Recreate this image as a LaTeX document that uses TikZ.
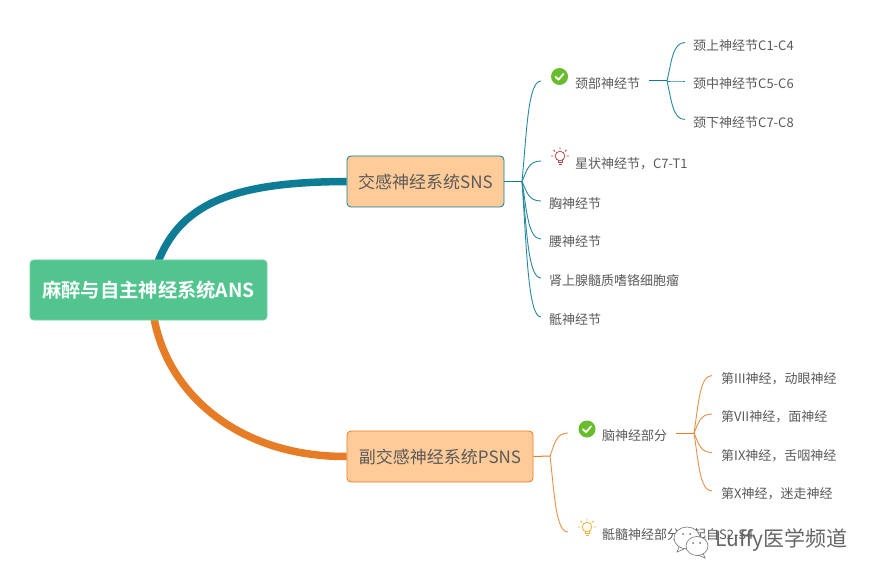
\documentclass[tikz,border=0pt]{standalone}
\usepackage{fontspec}
\setmainfont{Noto Sans CJK SC}[BoldFont={Noto Sans CJK SC Bold}]
\usetikzlibrary{calc,backgrounds,shapes.geometric}
\definecolor{tealc}{HTML}{0F7C96}
\definecolor{orangec}{HTML}{E67C26}
\definecolor{boxfill}{HTML}{FFCB98}
\definecolor{rootc}{HTML}{52C58F}
\definecolor{txt}{HTML}{5A5A5A}
\definecolor{okgreen}{HTML}{67BD2B}
\definecolor{bulbred}{HTML}{B5504F}
\definecolor{bulbyel}{HTML}{F0B43C}
\tikzset{
  rootbox/.style={fill=rootc,draw=rootc!80!white,rounded corners=3.5pt,line width=.6pt,minimum width=237pt,minimum height=60pt,inner sep=0,text=white,font=\fontsize{19.3}{19.3}\selectfont\bfseries},
  mainbox/.style={fill=boxfill,rounded corners=4pt,line width=.8pt,minimum height=51pt,inner sep=0,text=txt,font=\fontsize{17}{17}\selectfont},
  leaf/.style={anchor=west,inner sep=0,text=txt,text height=15.5pt,text depth=0pt,font=\fontsize{13}{13}\selectfont},
  thick branch/.style={line width=7.5pt},
  thin branch/.style={line width=.9pt},
  stem/.style={line width=1pt},
  pics/checkicon/.style={code={
    \fill[fill=#1] (0,0) circle (8.5pt);
    \draw[white,line width=1.8pt,line cap=round,line join=round] (-4,0.3) -- (-1,3.2) -- (4,-2.6);
  }},
  pics/bulbicon/.style={code={
    \draw[#1,line width=.8pt] (0,-2) circle (4.8pt);
    \draw[#1,line width=.8pt] (-2,2.4) -- (-2,4) -- (2,4) -- (2,2.4);
    \draw[#1,line width=.9pt] (-1.5,6) -- (1.5,6);
    \draw[#1,line width=.8pt] (0,-10.5) -- (0,-8.5) (-6.5,-8) -- (-5,-6.5) (6.5,-8) -- (5,-6.5)
      (-9,-2) -- (-6.7,-2) (9,-2) -- (6.7,-2);
  }},
  pics/bubbles/.style={code={
    \draw[#1,fill=white,line width=.6pt] (-12,6) -- (-14,11) -- (-7,8);
    \draw[#1,fill=white,line width=.6pt] (-4,-3) ellipse [x radius=13pt,y radius=11pt];
    \draw[#1,fill=white,line width=.6pt] (12,12) -- (14,17) -- (7,14);
    \draw[#1,fill=white,line width=.6pt] (6,5) ellipse [x radius=11pt,y radius=9.5pt];
    \fill[#1] (-8,-7) circle (1pt) (-1,-7) circle (1pt) (2,2) circle (1pt) (9,2) circle (1pt);
  }}
}
\newcommand\br[3][]{\draw[#1] let \p1=(#2),\p2=(#3) in (\p1) .. controls ({\x1+.25*(\x2-\x1)},{\y1+.5*(\y2-\y1)}) and ({\x1+.32*(\x2-\x1)},\y2) .. (\p2);}
\begin{document}
\begin{tikzpicture}[x=1pt,y=-1pt]
\useasboundingbox (0,0) rectangle (876,580);
% nodes
\node[rootbox] (root) at (148.5,290) {麻醉与自主神经系统ANS};
\node[mainbox,draw=tealc,minimum width=157pt] (sns) at (425.5,181.5) {交感神经系统SNS};
\node[mainbox,draw=orangec,minimum width=186pt] (psns) at (440,456.5) {副交感神经系统PSNS};
% SNS leaves
\node[leaf] (cerv) at (541,81) {\hspace*{34pt}颈部神经节};
\node[leaf] (stel) at (541,161) {\hspace*{34pt}星状神经节，C7-T1};
\node[leaf] (thor) at (541,201) {\hspace*{8pt}胸神经节};
\node[leaf] (lumb) at (541,239) {\hspace*{8pt}腰神经节};
\node[leaf] (pheo) at (541,278) {\hspace*{8pt}肾上腺髓质嗜铬细胞瘤};
\node[leaf] (sacr) at (541,317) {\hspace*{8pt}骶神经节};
\node[leaf] (c1) at (685,42.5) {\hspace*{8pt}颈上神经节C1-C4};
\node[leaf] (c5) at (685,81) {\hspace*{8pt}颈中神经节C5-C6};
\node[leaf] (c7) at (685,119.5) {\hspace*{8pt}颈下神经节C7-C8};
% PSNS leaves
\node[leaf] (brain) at (568,433) {\hspace*{34pt}脑神经部分};
\node[leaf] (sacp) at (568,532) {\hspace*{34pt}骶髓神经部分，起自S2-S4};
\node[leaf] (n3) at (712,375.5) {\hspace*{9pt}第III神经，动眼神经};
\node[leaf] (n7) at (712,414) {\hspace*{9pt}第VII神经，面神经};
\node[leaf] (n9) at (712,452.5) {\hspace*{9pt}第IX神经，舌咽神经};
\node[leaf] (n10) at (712,491) {\hspace*{9pt}第X神经，迷走神经};
% icons
\pic at (559.5,76.5) {checkicon={okgreen}};
\pic at (560,158) {bulbicon={bulbred}};
\pic at (587,429) {checkicon={okgreen}};
\pic at (587,529) {bulbicon={bulbyel}};
% hubs
\coordinate (h1) at (522,181.5);
\coordinate (h2) at (667,81);
\coordinate (h3) at (550,456);
\coordinate (h4) at (694,433);
\coordinate (cx) at ($(cerv.west)+(108,0)$);
\coordinate (bx) at ($(brain.west)+(108,0)$);
\coordinate (r1) at (158,262);
\coordinate (r2) at (154,318);
\coordinate (s1) at (sns.west);
\coordinate (s2) at (psns.west);
\begin{scope}[on background layer]
\fill[white] (0,0) rectangle (876,580);
\draw[tealc,thick branch] (r1) .. controls (182,200) and (240,182) .. (s1);
\draw[orangec,thick branch] (r2) .. controls (168,395) and (240,457) .. (s2);
\draw[tealc,stem] (sns.east) -- (h1);
\draw[orangec,stem] (psns.east) -- (h3);
\draw[tealc,stem] (cx) -- (h2);
\draw[orangec,stem] (bx) -- (h4);
\end{scope}
\foreach \t in {cerv,stel,thor,lumb,pheo,sacr} {\br[tealc!90!white,thin branch]{h1}{\t.west}}
\foreach \t in {c1,c5,c7} {\br[tealc!90!white,thin branch]{h2}{\t.west}}
\foreach \t in {brain,sacp} {\br[orangec!85!white,thin branch]{h3}{\t.west}}
\foreach \t in {n3,n7,n9,n10} {\br[orangec!85!white,thin branch]{h4}{\t.west}}
% watermark
\pic at (691,541) {bubbles={black!55}};
\node[inner sep=0,anchor=west,text=black!60,font=\fontsize{21}{21}\selectfont] (wm) at (715,540) {Luffy医学频道};
\end{tikzpicture}
\end{document}
